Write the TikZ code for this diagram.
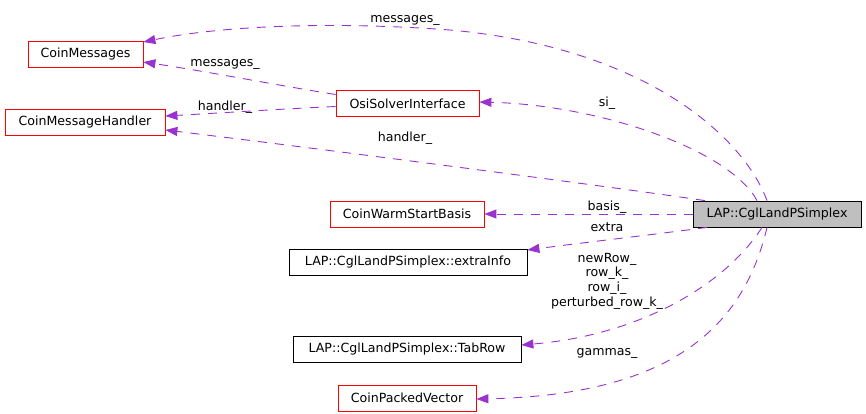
\documentclass[tikz,border=0pt]{standalone}
\usepackage{fontspec}
\setmainfont{DejaVu Sans}
\usetikzlibrary{arrows.meta}
\definecolor{edgec}{HTML}{9A32CD}
\definecolor{boxred}{HTML}{FF0000}
\definecolor{mainfill}{HTML}{BFBFBF}
\begin{document}
\begin{tikzpicture}[x=1pt,y=-1pt,
  every node/.style={font=\fontsize{12.6}{15}\selectfont},
  cls/.style={draw=black, line width=0.8pt, minimum height=26pt, inner sep=0pt, fill=white},
  redcls/.style={cls, draw=boxred},
  maincls/.style={cls, fill=mainfill},
  rel/.style={draw=edgec, line width=0.9pt, dash pattern=on 9pt off 8pt, -{Triangle[length=12pt,width=9pt]}, fill=none},
  lbl/.style={inner sep=0pt, align=center}
]
\useasboundingbox (0,0) rectangle (866,413);

\node[redcls, minimum width=115pt] (cm) at (85.5,54) {CoinMessages};
\node[redcls, minimum width=160pt] (cmh) at (85,122) {CoinMessageHandler};
\node[redcls, minimum width=143pt] (osi) at (407.5,103.5) {OsiSolverInterface};
\node[redcls, minimum width=154pt] (cws) at (407,214) {CoinWarmStartBasis};
\node[maincls, minimum width=168pt] (lap) at (777,214) {LAP::CglLandPSimplex};
\node[cls, minimum width=238pt] (ext) at (408,262) {LAP::CglLandPSimplex::extraInfo};
\node[cls, minimum width=228pt] (tab) at (407,349) {LAP::CglLandPSimplex::TabRow};
\node[redcls, minimum width=138pt] (cpv) at (407,398) {CoinPackedVector};

% edges (yshift is in canvas direction: positive = up)
\draw[rel] ([xshift=-10pt]lap.north) .. controls (745,140) and (650,48) .. (450,30)
   .. controls (330,21) and (220,26) .. ([yshift=12pt]cm.east);
\draw[rel] ([yshift=9pt]osi.west) .. controls (270,84) and (210,72) .. ([yshift=-8pt]cm.east);
\draw[rel] ([yshift=-3pt]osi.west) .. controls (280,109) and (220,113) .. ([yshift=6pt]cmh.east);
\draw[rel] ([xshift=-72pt]lap.north) .. controls (620,188) and (330,150) .. ([yshift=-8pt]cmh.east);
\draw[rel] ([xshift=-20pt]lap.north) .. controls (730,150) and (600,105) .. ([yshift=1.5pt]osi.east);
\draw[rel] (lap.west) -- (cws.east);
\draw[rel] ([xshift=-70pt]lap.south) .. controls (650,235) and (580,243) .. ([yshift=12pt]ext.east);
\draw[rel] ([xshift=-15pt]lap.south) .. controls (725,285) and (640,335) .. ([yshift=4pt]tab.east);
\draw[rel] ([xshift=-10pt]lap.south) .. controls (745,320) and (680,395) .. ([yshift=-1pt]cpv.east);

% labels
\node[lbl] (l1) at (405,20) {messages\_};
\node[lbl] (l2) at (225,64) {messages\_};
\node[lbl] (l3) at (225,107) {handler\_};
\node[lbl] (l4) at (405,138) {handler\_};
\node[lbl] (l5) at (607,103) {si\_};
\node[lbl] (l6) at (607,207) {basis\_};
\node[lbl] (l7) at (607,227) {extra};
\node[lbl, font=\fontsize{12.6}{14.7}\selectfont] (l8) at (607,281) {newRow\_\\row\_k\_\\row\_i\_\\perturbed\_row\_k\_};
\node[lbl] (l9) at (607,353) {gammas\_};
\end{tikzpicture}
\end{document}
